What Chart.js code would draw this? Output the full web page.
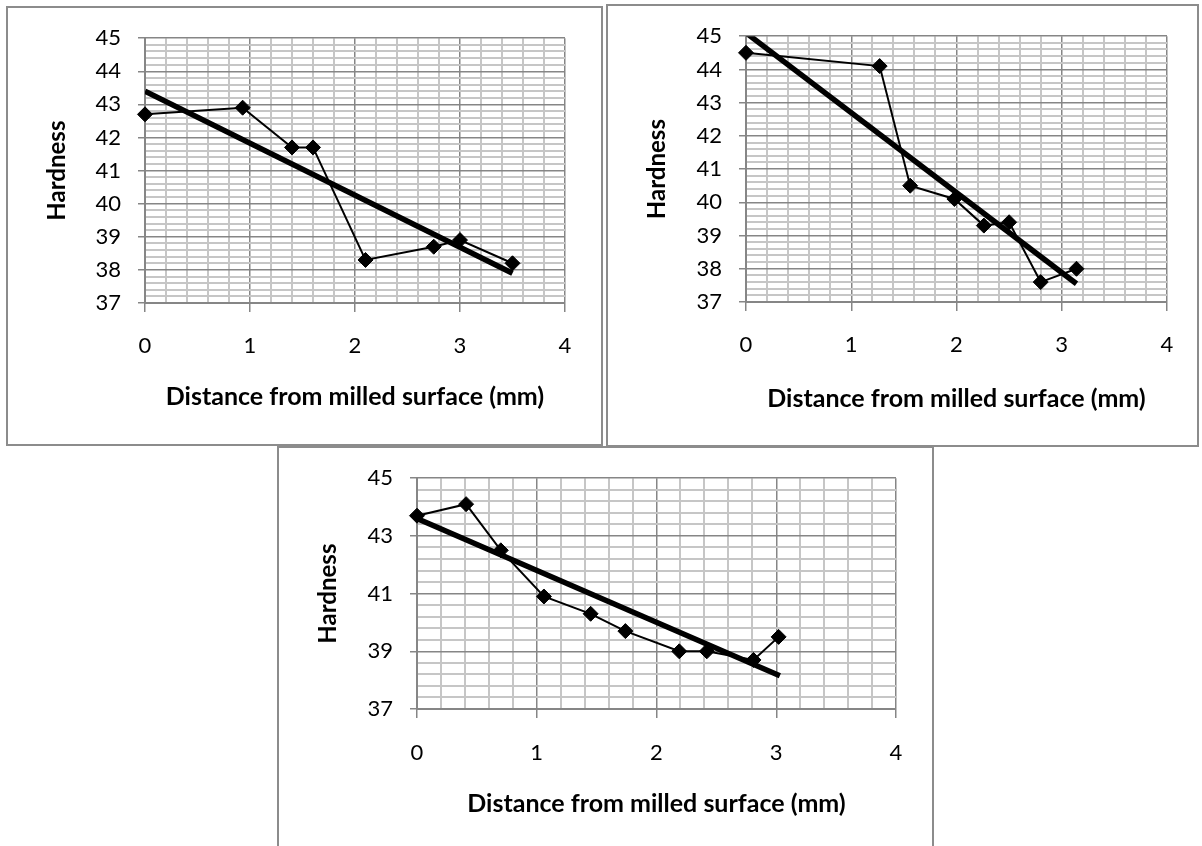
<!DOCTYPE html>
<html>
<head>
<meta charset="utf-8">
<script src="https://cdn.jsdelivr.net/npm/chart.js@4.4.0/dist/chart.umd.min.js"></script>
<style>
  html, body { margin: 0; padding: 0; background: #fff; }
  body { width: 1202px; height: 846px; position: relative; overflow: hidden; }
  .box { position: absolute; border: 2px solid #8c8c8c; box-sizing: border-box; background: #fff; }
  .box canvas { position: absolute; left: 0; top: 0; }
</style>
</head>
<body>
<div class="box" style="left:6px;top:6px;width:597px;height:440px;"><canvas id="c1" width="593" height="436"></canvas></div>
<div class="box" style="left:606px;top:4px;width:593px;height:443px;"><canvas id="c2" width="589" height="439"></canvas></div>
<div class="box" style="left:277px;top:446px;width:657px;height:420px;"><canvas id="c3" width="653" height="398"></canvas></div>
<script>
// axis labels
const xTitle = 'Distance from milled surface (mm)';
const yTitle = 'Hardness';
const xTicks = [0, 1, 2, 3, 4];
const yTicksAB = [37, 38, 39, 40, 41, 42, 43, 44, 45];
const yTicksC = [37, 39, 41, 43, 45];

// chart 1 (top left)
const dist1 = [0, 0.93, 1.4, 1.6, 2.1, 2.75, 3.0, 3.5];
const hard1 = [42.7, 42.9, 41.7, 41.7, 38.3, 38.7, 38.9, 38.2];
const trendDist1 = [0, 3.5];
const trendHard1 = [43.4, 37.9];

// chart 2 (top right)
const dist2 = [0, 1.27, 1.56, 1.98, 2.26, 2.5, 2.8, 3.14];
const hard2 = [44.5, 44.1, 40.5, 40.1, 39.3, 39.4, 37.6, 38.0];
const trendDist2 = [0, 3.14];
const trendHard2 = [45.1, 37.55];

// chart 3 (bottom)
const dist3 = [0, 0.41, 0.7, 1.06, 1.45, 1.74, 2.19, 2.42, 2.81, 3.02];
const hard3 = [43.7, 44.1, 42.5, 40.9, 40.3, 39.7, 39.0, 39.0, 38.7, 39.5];
const trendDist3 = [0, 3.03];
const trendHard3 = [43.6, 38.15];

const FONT = 'Lato, "Open Sans", sans-serif';
const MAJOR = '#868686';
const MINOR = '#c6c6c6';

function toPoints(xs, ys) {
    return xs.map((x, i) => ({ x: x, y: ys[i] }));
}

function isOn(list, v) {
    return list.some(t => Math.abs(t - v) < 1e-6);
}

function makeChart(id, cfg) {
    const xMajor = cfg.xTicks, yMajor = cfg.yTicks;
    new Chart(document.getElementById(id), {
        type: 'scatter',
        data: {
            datasets: [
                {
                    data: toPoints(cfg.trendX, cfg.trendY),
                    showLine: true,
                    borderColor: '#000',
                    borderWidth: 5.5,
                    pointRadius: 0,
                    borderCapStyle: 'butt'
                },
                {
                    data: toPoints(cfg.x, cfg.y),
                    showLine: true,
                    clip: false,
                    borderColor: '#000',
                    borderWidth: 2,
                    pointStyle: 'rectRot',
                    pointRadius: 7.5,
                    pointBackgroundColor: '#000',
                    pointBorderColor: '#000',
                    pointBorderWidth: 1
                }
            ]
        },
        options: {
            responsive: false,
            animation: false,
            layout: { padding: { top: cfg.padTop, right: cfg.padRight, left: 0, bottom: 0 } },
            plugins: { legend: { display: false }, tooltip: { enabled: false } },
            scales: {
                x: {
                    type: 'linear',
                    min: 0, max: 4,
                    afterFit: s => { s.height = cfg.xHeight; },
                    ticks: {
                        stepSize: 0.2,
                        autoSkip: false,
                        maxRotation: 0,
                        padding: cfg.xLabelPad,
                        color: '#000',
                        font: { family: FONT, size: 22 },
                        callback: v => isOn(xMajor, v) ? String(Math.round(v)) : ''
                    },
                    grid: {
                        color: ctx => ctx.tick && isOn(xMajor, ctx.tick.value) ? MAJOR : MINOR,
                        lineWidth: ctx => ctx.tick && isOn(xMajor, ctx.tick.value) ? 1.5 : 2,
                        tickLength: 9,
                        tickWidth: 1.5,
                        tickColor: ctx => ctx.tick && isOn(xMajor, ctx.tick.value) ? MAJOR : 'rgba(0,0,0,0)'
                    },
                    border: { color: MAJOR, width: 2 },
                    title: {
                        display: true,
                        text: xTitle,
                        color: '#000',
                        font: { family: FONT, size: 25, weight: 'bold' },
                        padding: { top: 0, bottom: cfg.xTitlePad }
                    }
                },
                y: {
                    type: 'linear',
                    min: 37, max: 45,
                    afterFit: s => { s.width = cfg.yWidth; },
                    ticks: {
                        stepSize: cfg.yStep,
                        autoSkip: false,
                        padding: 17,
                        color: '#000',
                        font: { family: FONT, size: 22 },
                        callback: v => isOn(yMajor, v) ? String(Math.round(v)) : ''
                    },
                    grid: {
                        color: ctx => ctx.tick && isOn(yMajor, ctx.tick.value) ? MAJOR : MINOR,
                        lineWidth: ctx => ctx.tick && isOn(yMajor, ctx.tick.value) ? 1.5 : 2,
                        tickLength: 7,
                        tickWidth: 1.5,
                        tickColor: ctx => ctx.tick && isOn(yMajor, ctx.tick.value) ? MAJOR : 'rgba(0,0,0,0)'
                    },
                    border: { color: MAJOR, width: 2 },
                    title: {
                        display: true,
                        text: yTitle,
                        color: '#000',
                        font: { family: FONT, size: 24, weight: 'bold' },
                        padding: { top: 35, bottom: 0 }
                    }
                }
            }
        }
    });
}

makeChart('c1', {
    x: dist1, y: hard1, trendX: trendDist1, trendY: trendHard1,
    xTicks: xTicks, yTicks: yTicksAB, yStep: 0.2,
    padTop: 28, padRight: 36, yWidth: 137, xHeight: 141, xLabelPad: 21, xTitlePad: 32
});
makeChart('c2', {
    x: dist2, y: hard2, trendX: trendDist2, trendY: trendHard2,
    xTicks: xTicks, yTicks: yTicksAB, yStep: 0.2,
    padTop: 30, padRight: 30, yWidth: 138, xHeight: 143, xLabelPad: 21, xTitlePad: 31
});
makeChart('c3', {
    x: dist3, y: hard3, trendX: trendDist3, trendY: trendHard3,
    xTicks: xTicks, yTicks: yTicksC, yStep: 0.4,
    padTop: 29, padRight: 36, yWidth: 138, xHeight: 137, xLabelPad: 22, xTitlePad: 27
});
</script>
</body>
</html>
